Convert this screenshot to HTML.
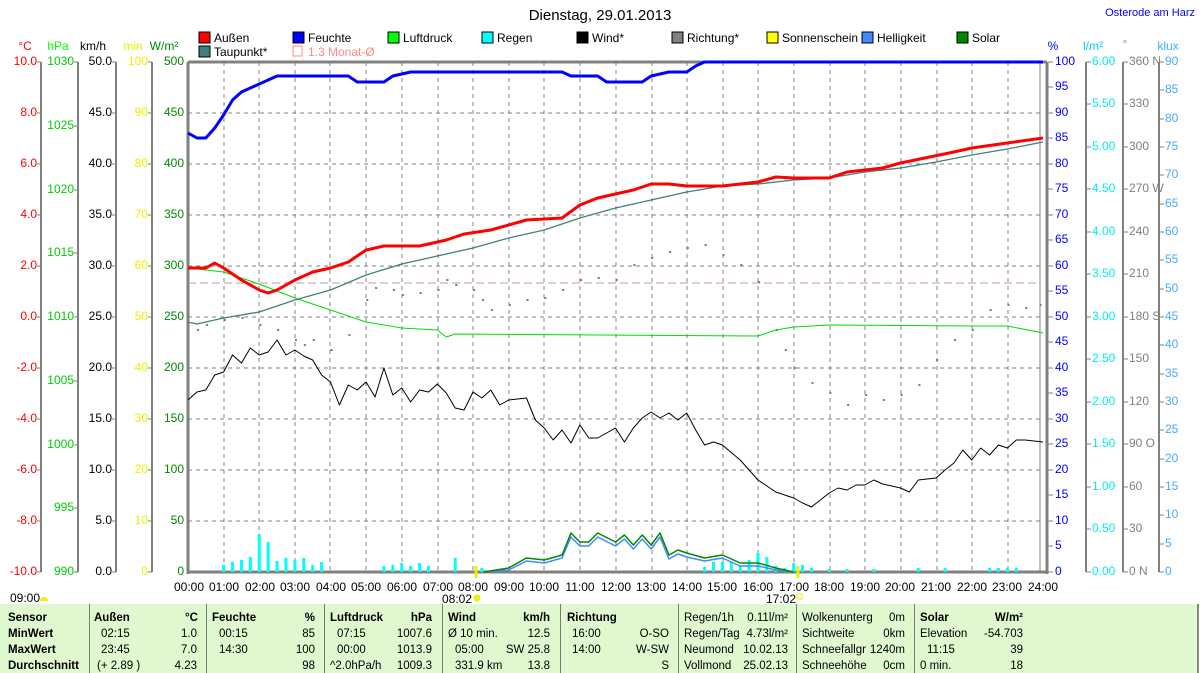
<!DOCTYPE html>
<html><head><meta charset="utf-8"><style>
body{margin:0;background:#fff;width:1200px;height:673px;overflow:hidden;font-family:"Liberation Sans",sans-serif}
svg text{font-family:"Liberation Sans",sans-serif;font-size:12px}
.tb{position:absolute;left:0;top:604px;width:1197px;height:69px;background:#e0f8d0;border-right:2px solid #888}
.tb div{position:absolute;font-size:11.5px;white-space:nowrap}
.b{font-weight:bold}
.sep{position:absolute;top:0;width:1px;height:69px;background:#777}
</style></head><body>
<svg width="1200" height="604" style="position:absolute;left:0;top:0">
<text x="600" y="20" text-anchor="middle" font-size="15" style="font-size:15px">Dienstag, 29.01.2013</text>
<text x="1195" y="16" text-anchor="end" fill="#00f" style="font-size:11px">Osterode am Harz</text>
<!-- legend -->
<g style="font-size:12px">
<rect x="199" y="32" width="11" height="11" fill="#f00" stroke="#000"/><text x="214" y="42">Außen</text>
<rect x="293" y="32" width="11" height="11" fill="#00f" stroke="#000"/><text x="308" y="42">Feuchte</text>
<rect x="388" y="32" width="11" height="11" fill="#0f0" stroke="#000"/><text x="403" y="42">Luftdruck</text>
<rect x="482" y="32" width="11" height="11" fill="#0ff" stroke="#000"/><text x="497" y="42">Regen</text>
<rect x="577" y="32" width="11" height="11" fill="#000" stroke="#000"/><text x="592" y="42">Wind*</text>
<rect x="672" y="32" width="11" height="11" fill="#808080" stroke="#000"/><text x="687" y="42">Richtung*</text>
<rect x="767" y="32" width="11" height="11" fill="#ff0" stroke="#000"/><text x="782" y="42">Sonnenschein</text>
<rect x="862" y="32" width="11" height="11" fill="#48f" stroke="#000"/><text x="877" y="42">Helligkeit</text>
<rect x="957" y="32" width="11" height="11" fill="#080" stroke="#000"/><text x="972" y="42">Solar</text>
<rect x="199" y="46" width="11" height="11" fill="#408080" stroke="#000"/><text x="214" y="56">Taupunkt*</text>
<rect x="293" y="46" width="9" height="10" fill="none" stroke="#f88"/><text x="308" y="56" fill="#f88">1.3 Monat-Ø</text>
</g>
<!-- axis units -->
<text x="25" y="50" fill="#f00" text-anchor="middle">°C</text>
<text x="58" y="50" fill="#0f0" text-anchor="middle">hPa</text>
<text x="93" y="50" text-anchor="middle">km/h</text>
<text x="133" y="50" fill="#ee0" text-anchor="middle">min</text>
<text x="164" y="50" fill="#080" text-anchor="middle">W/m²</text>
<text x="1053" y="50" fill="#00f" text-anchor="middle">%</text>
<text x="1093" y="50" fill="#0cf" text-anchor="middle">l/m²</text>
<text x="1125" y="48" fill="#888" text-anchor="middle">°</text>
<text x="1168" y="50" fill="#4af" text-anchor="middle">klux</text>
<!-- axis lines -->
<g stroke="#808080" stroke-width="2">
<line x1="41" y1="62" x2="41" y2="572"/><line x1="78" y1="62" x2="78" y2="572"/>
<line x1="116" y1="62" x2="116" y2="572"/><line x1="152" y1="62" x2="152" y2="572"/>
<line x1="1086" y1="62" x2="1086" y2="572"/><line x1="1123" y1="62" x2="1123" y2="572"/>
<line x1="1159" y1="62" x2="1159" y2="572"/>
<line x1="1040" y1="62" x2="1040" y2="572" stroke-width="1"/>
</g>
<line x1="1047" y1="62" x2="1047" y2="574" stroke="#808080" stroke-width="3"/>
<line x1="188" y1="62" x2="1047" y2="62" stroke="#808080" stroke-width="3"/>
<line x1="188" y1="62" x2="188" y2="574" stroke="#808080" stroke-width="3"/>
<line x1="188" y1="572" x2="1047" y2="572" stroke="#808080" stroke-width="3"/>
<!-- grid -->
<g stroke="#808080" stroke-dasharray="4,4" stroke-width="1">
<line x1="188" x2="1040" y1="113" y2="113"/><line x1="188" x2="1040" y1="164" y2="164"/>
<line x1="188" x2="1040" y1="215" y2="215"/><line x1="188" x2="1040" y1="266" y2="266"/>
<line x1="188" x2="1040" y1="317" y2="317"/><line x1="188" x2="1040" y1="368" y2="368"/>
<line x1="188" x2="1040" y1="419" y2="419"/><line x1="188" x2="1040" y1="470" y2="470"/>
<line x1="188" x2="1040" y1="521" y2="521"/>
<line x1="224" x2="224" y1="62" y2="572"/><line x1="259" x2="259" y1="62" y2="572"/>
<line x1="295" x2="295" y1="62" y2="572"/><line x1="330" x2="330" y1="62" y2="572"/>
<line x1="366" x2="366" y1="62" y2="572"/><line x1="402" x2="402" y1="62" y2="572"/>
<line x1="438" x2="438" y1="62" y2="572"/><line x1="473" x2="473" y1="62" y2="572"/>
<line x1="509" x2="509" y1="62" y2="572"/><line x1="544" x2="544" y1="62" y2="572"/>
<line x1="580" x2="580" y1="62" y2="572"/><line x1="616" x2="616" y1="62" y2="572"/>
<line x1="652" x2="652" y1="62" y2="572"/><line x1="687" x2="687" y1="62" y2="572"/>
<line x1="723" x2="723" y1="62" y2="572"/><line x1="758" x2="758" y1="62" y2="572"/>
<line x1="794" x2="794" y1="62" y2="572"/><line x1="830" x2="830" y1="62" y2="572"/>
<line x1="865" x2="865" y1="62" y2="572"/><line x1="901" x2="901" y1="62" y2="572"/>
<line x1="937" x2="937" y1="62" y2="572"/><line x1="972" x2="972" y1="62" y2="572"/>
<line x1="1008" x2="1008" y1="62" y2="572"/>
</g>
<line x1="188" x2="1040" y1="283" y2="283" stroke="#c99" stroke-dasharray="8,4"/>
<!-- left ticks/labels -->
<g text-anchor="end" dominant-baseline="middle">
<g fill="#f00"><text x="37" y="62">10.0</text><text x="37" y="113">8.0</text><text x="37" y="164">6.0</text><text x="37" y="215">4.0</text><text x="37" y="266">2.0</text><text x="37" y="317">0.0</text><text x="37" y="368">-2.0</text><text x="37" y="419">-4.0</text><text x="37" y="470">-6.0</text><text x="37" y="521">-8.0</text><text x="37" y="572">-10.0</text></g>
<g fill="#0c0"><text x="74" y="62">1030</text><text x="74" y="126">1025</text><text x="74" y="190">1020</text><text x="74" y="253">1015</text><text x="74" y="317">1010</text><text x="74" y="381">1005</text><text x="74" y="445">1000</text><text x="74" y="508">995</text><text x="74" y="572">990</text></g>
<g fill="#000"><text x="112" y="62">50.0</text><text x="112" y="113">45.0</text><text x="112" y="164">40.0</text><text x="112" y="215">35.0</text><text x="112" y="266">30.0</text><text x="112" y="317">25.0</text><text x="112" y="368">20.0</text><text x="112" y="419">15.0</text><text x="112" y="470">10.0</text><text x="112" y="521">5.0</text><text x="112" y="572">0.0</text></g>
<g fill="#ee0"><text x="148" y="62">100</text><text x="148" y="113">90</text><text x="148" y="164">80</text><text x="148" y="215">70</text><text x="148" y="266">60</text><text x="148" y="317">50</text><text x="148" y="368">40</text><text x="148" y="419">30</text><text x="148" y="470">20</text><text x="148" y="521">10</text><text x="148" y="572">0</text></g>
<g fill="#080"><text x="184" y="62">500</text><text x="184" y="113">450</text><text x="184" y="164">400</text><text x="184" y="215">350</text><text x="184" y="266">300</text><text x="184" y="317">250</text><text x="184" y="368">200</text><text x="184" y="419">150</text><text x="184" y="470">100</text><text x="184" y="521">50</text><text x="184" y="572">0</text></g>
</g>
<g stroke="#808080" stroke-width="1">
<path d="M41 62h-4M41 113h-4M41 164h-4M41 215h-4M41 266h-4M41 317h-4M41 368h-4M41 419h-4M41 470h-4M41 521h-4M41 572h-4"/>
<path d="M78 62h-4M78 126h-4M78 190h-4M78 253h-4M78 317h-4M78 381h-4M78 445h-4M78 508h-4M78 572h-4"/>
<path d="M116 62h-4M116 113h-4M116 164h-4M116 215h-4M116 266h-4M116 317h-4M116 368h-4M116 419h-4M116 470h-4M116 521h-4M116 572h-4"/>
<path d="M152 62h-4M152 113h-4M152 164h-4M152 215h-4M152 266h-4M152 317h-4M152 368h-4M152 419h-4M152 470h-4M152 521h-4M152 572h-4"/>
<path d="M1048 62h5M1048 87h5M1048 113h5M1048 138h5M1048 164h5M1048 189h5M1048 215h5M1048 240h5M1048 266h5M1048 291h5M1048 317h5M1048 342h5M1048 368h5M1048 393h5M1048 419h5M1048 444h5M1048 470h5M1048 495h5M1048 521h5M1048 546h5M1048 572h5"/>
<path d="M1086 62h5M1086 104h5M1086 147h5M1086 189h5M1086 232h5M1086 274h5M1086 317h5M1086 359h5M1086 402h5M1086 444h5M1086 487h5M1086 529h5M1086 572h5"/>
<path d="M1123 62h5M1123 104h5M1123 147h5M1123 189h5M1123 232h5M1123 274h5M1123 317h5M1123 359h5M1123 402h5M1123 444h5M1123 487h5M1123 529h5M1123 572h5"/>
<path d="M1159 62h5M1159 90h5M1159 119h5M1159 147h5M1159 175h5M1159 204h5M1159 232h5M1159 260h5M1159 289h5M1159 317h5M1159 345h5M1159 374h5M1159 402h5M1159 430h5M1159 459h5M1159 487h5M1159 515h5M1159 544h5M1159 572h5"/>
</g>
<g dominant-baseline="middle">
<g fill="#00f"><text x="1055" y="62">100</text><text x="1055" y="87">95</text><text x="1055" y="113">90</text><text x="1055" y="138">85</text><text x="1055" y="164">80</text><text x="1055" y="189">75</text><text x="1055" y="215">70</text><text x="1055" y="240">65</text><text x="1055" y="266">60</text><text x="1055" y="291">55</text><text x="1055" y="317">50</text><text x="1055" y="342">45</text><text x="1055" y="368">40</text><text x="1055" y="393">35</text><text x="1055" y="419">30</text><text x="1055" y="444">25</text><text x="1055" y="470">20</text><text x="1055" y="495">15</text><text x="1055" y="521">10</text><text x="1055" y="546">5</text><text x="1055" y="572">0</text></g>
<g fill="#0ee"><text x="1092" y="62">6.00</text><text x="1092" y="104">5.50</text><text x="1092" y="147">5.00</text><text x="1092" y="189">4.50</text><text x="1092" y="232">4.00</text><text x="1092" y="274">3.50</text><text x="1092" y="317">3.00</text><text x="1092" y="359">2.50</text><text x="1092" y="402">2.00</text><text x="1092" y="444">1.50</text><text x="1092" y="487">1.00</text><text x="1092" y="529">0.50</text><text x="1092" y="572">0.00</text></g>
<g fill="#808080"><text x="1129" y="62">360 N</text><text x="1129" y="104">330</text><text x="1129" y="147">300</text><text x="1129" y="189">270 W</text><text x="1129" y="232">240</text><text x="1129" y="274">210</text><text x="1129" y="317">180 S</text><text x="1129" y="359">150</text><text x="1129" y="402">120</text><text x="1129" y="444">90 O</text><text x="1129" y="487">60</text><text x="1129" y="529">30</text><text x="1129" y="572">0 N</text></g>
<g fill="#4af"><text x="1165" y="62">90</text><text x="1165" y="90">85</text><text x="1165" y="119">80</text><text x="1165" y="147">75</text><text x="1165" y="175">70</text><text x="1165" y="204">65</text><text x="1165" y="232">60</text><text x="1165" y="260">55</text><text x="1165" y="289">50</text><text x="1165" y="317">45</text><text x="1165" y="345">40</text><text x="1165" y="374">35</text><text x="1165" y="402">30</text><text x="1165" y="430">25</text><text x="1165" y="459">20</text><text x="1165" y="487">15</text><text x="1165" y="515">10</text><text x="1165" y="544">5</text><text x="1165" y="572">0</text></g>
</g>
<!-- time labels -->
<g text-anchor="middle">
<text x="189" y="591">00:00</text><text x="224" y="591">01:00</text><text x="260" y="591">02:00</text><text x="295" y="591">03:00</text><text x="331" y="591">04:00</text><text x="366" y="591">05:00</text><text x="402" y="591">06:00</text><text x="438" y="591">07:00</text><text x="473" y="591">08:00</text><text x="509" y="591">09:00</text><text x="544" y="591">10:00</text><text x="580" y="591">11:00</text><text x="616" y="591">12:00</text><text x="651" y="591">13:00</text><text x="687" y="591">14:00</text><text x="722" y="591">15:00</text><text x="758" y="591">16:00</text><text x="794" y="591">17:00</text><text x="829" y="591">18:00</text><text x="865" y="591">19:00</text><text x="900" y="591">20:00</text><text x="936" y="591">21:00</text><text x="972" y="591">22:00</text><text x="1007" y="591">23:00</text><text x="1043" y="591">24:00</text>
<text x="457" y="603">08:02</text><text x="781" y="603">17:02</text>
</g>
<text x="10" y="602">09:00</text>
<path d="M40 601a4 4 0 0 1 8 0z" fill="#ee0"/>
<circle cx="477" cy="598" r="3.5" fill="#ee0"/>
<rect x="797" y="594" width="5" height="5" fill="none" stroke="#ee0"/>
<line x1="476" y1="566" x2="476" y2="578" stroke="#ee0" stroke-width="3"/>
<line x1="798" y1="566" x2="798" y2="578" stroke="#ee0" stroke-width="3"/>

<g transform="translate(188,0) scale(35.625,1)" fill="none" stroke-linejoin="round">
<path vector-effect="non-scaling-stroke" stroke="#0ff" stroke-width="3" d="M1 572V565M1.25 572V562M1.5 572V560M1.75 572V557M2 572V534M2.25 572V542M2.5 572V561M2.75 572V558M3 572V560M3.25 572V558M3.5 572V565M3.75 572V562M5.5 572V566M5.75 572V565M6 572V563M6.25 572V566M6.5 572V563M6.75 572V566M7.5 572V558M8.25 572V568M14.5 572V567M14.75 572V562M15 572V562M15.25 572V562M15.5 572V566M15.75 572V560M16 572V553M16.25 572V557M16.5 572V566M16.75 572V568M17 572V563M17.25 572V565M17.5 572V568M18 572V569M18.5 572V569M19.25 572V569M20.5 572V568M21.25 572V568M22.5 572V568M22.75 572V568M23 572V568M23.25 572V568"/>
<polyline vector-effect="non-scaling-stroke" stroke="#48f" stroke-width="1.5" points="8.3,572 9,570 9.5,561 10,563 10.5,558 10.75,537 11,546 11.25,546 11.5,537 12,546 12.25,539 12.5,549 12.75,539 13,549 13.25,537 13.5,559 13.75,554 14,557 14.5,561 15,558 15.5,566 16,566 16.5,570 17,572"/>
<polyline vector-effect="non-scaling-stroke" stroke="#080" stroke-width="1.5" points="8.3,572 9,568 9.5,558 10,560 10.5,555 10.75,533 11,542 11.25,542 11.5,533 12,542 12.25,535 12.5,545 12.75,535 13,545 13.25,533 13.5,555 13.75,550 14,553 14.5,558 15,555 15.5,563 16,563 16.5,568 17,572"/>
<path vector-effect="non-scaling-stroke" stroke="#808080" stroke-width="2" d="M0.25 330h.06M0.5 325h.06M1 320h.06M1.5 318h.06M2 325h.06M2.5 330h.06M3 340h.06M3.25 345h.06M3.5 340h.06M4 350h.06M4.5 335h.06M5 300h.06M5.25 288h.06M5.75 290h.06M6 295h.06M6.5 293h.06M7 290h.06M7.25 280h.06M7.5 285h.06M8 290h.06M8.25 300h.06M8.5 310h.06M9 305h.06M9.5 300h.06M10 298h.06M10.5 290h.06M11 280h.06M11.5 278h.06M12 280h.06M12.5 265h.06M13 258h.06M13.5 252h.06M14 248h.06M14.5 245h.06M15 255h.06M15.5 265h.06M16 282h.06M16.5 330h.06M16.75 350h.06M17 368h.06M17.5 383h.06M18 393h.06M18.5 405h.06M19 395h.06M19.5 400h.06M20 395h.06M20.5 385h.06M21 360h.06M21.5 340h.06M22 330h.06M22.5 310h.06M23 305h.06M23.5 308h.06M23.9 305h.06"/>
<polyline vector-effect="non-scaling-stroke" stroke="#0d0" stroke-width="1" points="0,268 1,272 2,284 3,298 4,310 5,322 6,328 7,330 7.25,337 7.5,334 16,336 16.5,330 17,327 18,325 22,326 23,326 24,333"/>
<polyline vector-effect="non-scaling-stroke" stroke="#000" stroke-width="1" points="0,400 0.25,392 0.5,390 0.75,375 1,372 1.25,355 1.5,363 1.75,348 2,355 2.25,352 2.5,340 2.75,355 3,350 3.25,356 3.5,360 3.75,375 4,382 4.25,405 4.5,385 4.75,390 5,382 5.25,397 5.5,368 5.75,395 6,388 6.25,402 6.5,390 6.75,392 7,384 7.25,393 7.5,408 7.75,410 8,392 8.25,398 8.5,390 8.75,405 9,400 9.5,398 9.75,420 10,428 10.25,440 10.5,430 10.75,443 11,425 11.25,438 11.5,438 11.75,433 12,428 12.25,442 12.5,428 12.75,418 13,412 13.25,418 13.5,413 13.75,420 14,413 14.25,430 14.5,445 14.75,442 15,445 15.5,460 16,480 16.5,492 17,498 17.25,503 17.5,507 17.75,500 18,493 18.25,488 18.5,490 18.75,485 19,485 19.25,480 19.5,484 20,488 20.25,492 20.5,480 21,478 21.25,470 21.5,463 21.75,450 22,460 22.25,448 22.5,455 22.75,445 23,448 23.25,440 23.5,440 24,442"/>
<polyline vector-effect="non-scaling-stroke" stroke="#408080" stroke-width="1.3" points="0,322 0.25,324 1,318 2,312 3,300 4,290 5,275 6,264 7,256 8,248 9,238 10,230 11,218 12,208 13,200 14,192 15,186 16,184 17,180 18,178 19,172 20,168 21,162 22,155 23,149 24,142"/>
<polyline vector-effect="non-scaling-stroke" stroke="#f00" stroke-width="3" points="0,268 0.5,268 0.75,263 1,268 1.5,280 2,290 2.25,293 2.5,290 3,280 3.5,272 4,268 4.5,262 5,250 5.5,246 6.5,246 7.25,240 7.75,234 8.5,230 9.5,220 10.5,218 11,205 11.5,198 12.5,190 13,184 13.5,184 14,186 15,186 16,182 16.5,177 17,178 18,178 18.5,172 19.5,168 20,163 21.5,152 22,148 23,143 24,138"/>
<polyline vector-effect="non-scaling-stroke" stroke="#00f" stroke-width="3" points="0,133 0.25,138 0.5,138 0.75,128 1,115 1.25,100 1.5,92 1.75,88 2,84 2.5,76 3,76 4.5,76 4.75,82 5.5,82 5.75,76 6.25,72 8,72 10.5,72 10.75,76 11.5,76 11.75,82 12.75,82 13,76 13.5,72 14,72 14.25,66 14.5,62 24,62"/>
</g>
</svg>
<div class="tb">
<span class="sep" style="left:89px"></span><span class="sep" style="left:206px"></span><span class="sep" style="left:324px"></span><span class="sep" style="left:442px"></span><span class="sep" style="left:560px"></span><span class="sep" style="left:678px"></span><span class="sep" style="left:796px"></span><span class="sep" style="left:914px"></span>
<div class="b" style="left:8px;top:8px">Sensor</div><div class="b" style="left:8px;top:24px">MinWert</div><div class="b" style="left:8px;top:40px">MaxWert</div><div class="b" style="left:8px;top:56px">Durchschnitt</div>
<div class="b" style="left:94px;top:8px">Außen</div><div class="b" style="left:185px;top:8px">°C</div>
<div style="left:101px;top:24px">02:15</div><div style="right:1000px;top:24px">1.0</div>
<div style="left:101px;top:40px">23:45</div><div style="right:1000px;top:40px">7.0</div>
<div style="left:97px;top:56px">(+ 2.89 )</div><div style="right:1000px;top:56px">4.23</div>
<div class="b" style="left:212px;top:8px">Feuchte</div><div class="b" style="right:882px;top:8px">%</div>
<div style="left:219px;top:24px">00:15</div><div style="right:882px;top:24px">85</div>
<div style="left:219px;top:40px">14:30</div><div style="right:882px;top:40px">100</div>
<div style="right:882px;top:56px">98</div>
<div class="b" style="left:330px;top:8px">Luftdruck</div><div class="b" style="right:765px;top:8px">hPa</div>
<div style="left:337px;top:24px">07:15</div><div style="right:765px;top:24px">1007.6</div>
<div style="left:337px;top:40px">00:00</div><div style="right:765px;top:40px">1013.9</div>
<div style="left:330px;top:56px">^2.0hPa/h</div><div style="right:765px;top:56px">1009.3</div>
<div class="b" style="left:448px;top:8px">Wind</div><div class="b" style="right:647px;top:8px">km/h</div>
<div style="left:448px;top:24px">Ø 10 min.</div><div style="right:647px;top:24px">12.5</div>
<div style="left:455px;top:40px">05:00</div><div style="right:647px;top:40px">SW 25.8</div>
<div style="left:455px;top:56px">331.9 km</div><div style="right:647px;top:56px">13.8</div>
<div class="b" style="left:567px;top:8px">Richtung</div>
<div style="left:572px;top:24px">16:00</div><div style="right:528px;top:24px">O-SO</div>
<div style="left:572px;top:40px">14:00</div><div style="right:528px;top:40px">W-SW</div>
<div style="right:528px;top:56px">S</div>
<div style="left:684px;top:8px">Regen/1h</div><div style="right:409px;top:8px">0.11l/m²</div>
<div style="left:684px;top:24px">Regen/Tag</div><div style="right:409px;top:24px">4.73l/m²</div>
<div style="left:684px;top:40px">Neumond</div><div style="right:409px;top:40px">10.02.13</div>
<div style="left:684px;top:56px">Vollmond</div><div style="right:409px;top:56px">25.02.13</div>
<div style="left:802px;top:8px">Wolkenunterg</div><div style="right:292px;top:8px">0m</div>
<div style="left:802px;top:24px">Sichtweite</div><div style="right:292px;top:24px">0km</div>
<div style="left:802px;top:40px">Schneefallgr</div><div style="right:292px;top:40px">1240m</div>
<div style="left:802px;top:56px">Schneehöhe</div><div style="right:292px;top:56px">0cm</div>
<div class="b" style="left:920px;top:8px">Solar</div><div class="b" style="right:174px;top:8px">W/m²</div>
<div style="left:920px;top:24px">Elevation</div><div style="right:174px;top:24px">-54.703</div>
<div style="left:927px;top:40px">11:15</div><div style="right:174px;top:40px">39</div>
<div style="left:920px;top:56px">0 min.</div><div style="right:174px;top:56px">18</div>
</div>
</body></html>
